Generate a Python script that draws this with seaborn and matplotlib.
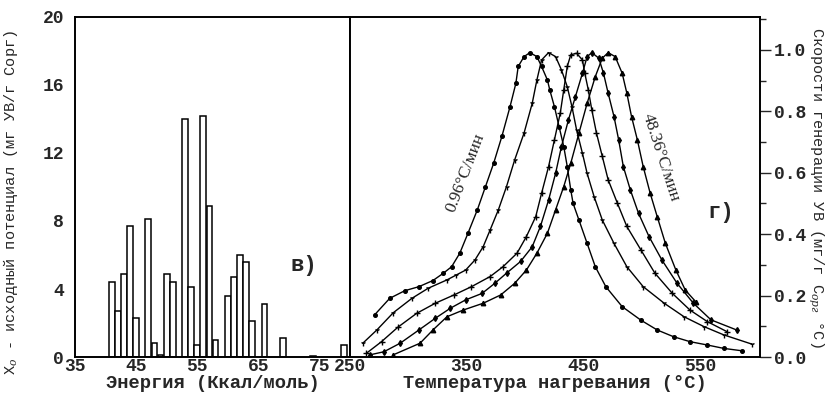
import matplotlib
matplotlib.use("Agg")
import matplotlib.pyplot as plt
import seaborn as sns
import numpy as np
from matplotlib.ticker import MultipleLocator

# ---------------- data: left panel (energy distribution) ----------------
energy = [41, 42, 43, 44, 45, 47, 48, 49, 50, 51, 53, 54, 55, 56, 57, 58,
          60, 61, 62, 63, 64, 66, 69, 74, 79]
potential = [4.4, 2.7, 4.9, 7.7, 2.3, 8.1, 0.8, 0.1, 4.9, 4.4, 14.0, 4.1, 0.7,
             14.2, 8.9, 1.0, 3.6, 4.7, 6.0, 5.6, 2.1, 3.1, 1.1, 0.05, 0.7]

# ---------------- data: right panel (generation rate curves) ----------------
t1 = [271, 284, 297, 309, 321, 330, 337, 344, 351, 359, 366, 373, 380, 387, 392,
      394, 399, 404, 410, 414, 419, 421, 425, 429, 433, 436, 439, 441, 446, 453,
      460, 469, 483, 499, 513, 527, 541, 556, 570, 586]
r1 = [0.137, 0.191, 0.216, 0.229, 0.249, 0.273, 0.294, 0.338, 0.403, 0.479,
      0.555, 0.631, 0.718, 0.815, 0.891, 0.946, 0.978, 0.991, 0.978, 0.946,
      0.902, 0.870, 0.815, 0.750, 0.685, 0.620, 0.544, 0.500, 0.446, 0.370,
      0.294, 0.229, 0.164, 0.120, 0.088, 0.066, 0.050, 0.039, 0.028, 0.020]

t2 = [261, 273, 287, 303, 317, 333, 341, 349, 357, 364, 370, 377, 384, 391, 399,
      406, 410, 414, 420, 426, 431, 436, 440, 444, 449, 453, 459, 466, 476, 487,
      501, 519, 536, 553, 570, 594]
r2 = [0.045, 0.088, 0.144, 0.191, 0.224, 0.251, 0.267, 0.283, 0.316, 0.359,
      0.414, 0.479, 0.555, 0.642, 0.729, 0.826, 0.902, 0.967, 0.991, 0.978,
      0.935, 0.880, 0.815, 0.739, 0.663, 0.598, 0.522, 0.446, 0.370, 0.294,
      0.229, 0.175, 0.131, 0.099, 0.072, 0.042]

t3 = [264, 277, 291, 307, 323, 339, 354, 370, 381, 393, 401, 409, 414, 420, 425,
      430, 433, 436, 439, 444, 449, 451, 454, 457, 461, 466, 471, 479, 487, 499,
      511, 526, 541, 556, 573]
r3 = [0.012, 0.050, 0.097, 0.142, 0.175, 0.202, 0.229, 0.262, 0.294, 0.338,
      0.392, 0.457, 0.533, 0.620, 0.707, 0.794, 0.870, 0.946, 0.984, 0.989,
      0.967, 0.924, 0.870, 0.805, 0.729, 0.653, 0.577, 0.500, 0.425, 0.349,
      0.273, 0.207, 0.153, 0.115, 0.082]

t4 = [267, 279, 293, 309, 323, 336, 349, 363, 374, 384, 396, 406, 413, 420, 426,
      431, 437, 443, 449, 453, 457, 463, 467, 471, 476, 480, 484, 490, 497, 506,
      517, 530, 544, 559, 581]
r4 = [0.007, 0.017, 0.045, 0.088, 0.126, 0.159, 0.186, 0.207, 0.240, 0.273,
      0.311, 0.359, 0.425, 0.511, 0.598, 0.685, 0.772, 0.848, 0.924, 0.978,
      0.991, 0.973, 0.924, 0.859, 0.783, 0.707, 0.620, 0.544, 0.468, 0.392,
      0.316, 0.240, 0.175, 0.121, 0.088]

t5 = [287, 310, 321, 333, 347, 364, 379, 391, 401, 410, 419, 426, 433, 439, 446,
      453, 460, 466, 471, 477, 483, 487, 491, 496, 501, 507, 513, 520, 529, 537,
      546]
r5 = [0.007, 0.045, 0.088, 0.131, 0.153, 0.175, 0.202, 0.240, 0.283, 0.338,
      0.403, 0.479, 0.555, 0.631, 0.729, 0.826, 0.913, 0.973, 0.991, 0.978,
      0.924, 0.859, 0.783, 0.707, 0.620, 0.533, 0.457, 0.370, 0.283, 0.218,
      0.180]

curves = [(t1, r1, "o", 2.6), (t2, r2, "1", 4.0), (t3, r3, "+", 3.8),
          (t4, r4, "d", 3.0), (t5, r5, "^", 3.2)]

# ---------------- style ----------------
sns.set_theme(style="white")
plt.rcParams["font.family"] = ["Liberation Mono", "DejaVu Sans"]
plt.rcParams["mathtext.fontset"] = "dejavuserif"

W, H = 834, 398
fig = plt.figure(figsize=(W / 100, H / 100), dpi=100)
top, bot = 17, 357
ax1 = fig.add_axes([75 / W, (H - bot) / H, (350 - 75) / W, (bot - top) / H])
ax2 = fig.add_axes([350 / W, (H - bot) / H, (760 - 350) / W, (bot - top) / H])

TICK_FS = 13

# ---------------- left panel ----------------
sns.barplot(x=energy, y=potential, native_scale=True, width=0.95, color="white",
            edgecolor="black", linewidth=1.1, ax=ax1, errorbar=None, saturation=1)
ax1.set_xlim(35, 80)
ax1.set_ylim(0, 20)
ax1.set_xticks([35, 45, 55, 65, 75])
ax1.xaxis.set_minor_locator(MultipleLocator(5))
ax1.set_yticks([0, 4, 8, 12, 16, 20])
ax1.yaxis.set_minor_locator(MultipleLocator(2))
ax1.tick_params(axis="x", which="both", direction="in", length=4, width=1,
                labelsize=TICK_FS, pad=1)
ax1.tick_params(axis="x", which="minor", length=3)
ax1.tick_params(axis="y", which="major", direction="out", length=6, width=1,
                labelsize=TICK_FS, pad=2)
ax1.tick_params(axis="y", which="minor", direction="out", length=3, width=1)
for lab in ax1.get_xticklabels() + ax1.get_yticklabels():
    lab.set_fontweight("bold")
ax1.set_xlabel("Энергия (Ккал/моль)", fontsize=13.5, fontweight="bold",
               labelpad=0)
ax1.set_ylabel("X$_o$ - исходный потенциал (мг УВ/г Сорг)", fontsize=11)
ax1.yaxis.set_label_coords(-0.2, 0.455)
ax1.text(72.5, 5.4, "в)", fontsize=16, fontweight="bold", ha="center",
         va="center")

# ---------------- right panel ----------------
for t, r, m, ms in curves:
    filled = m in ("o", "d", "^")
    sns.lineplot(x=t, y=r, color="black", linewidth=1.0, marker=m,
                 markersize=ms, markeredgecolor="black",
                 markerfacecolor="black" if filled else "none",
                 markeredgewidth=1.0, ax=ax2)
ax2.set_xlim(250, 601)
ax2.set_ylim(0, 1.107)
ax2.set_xticks([250, 350, 450, 550])
ax2.xaxis.set_minor_locator(MultipleLocator(20))
ax2.set_yticks([0.0, 0.2, 0.4, 0.6, 0.8, 1.0])
ax2.yaxis.set_minor_locator(MultipleLocator(0.1))
ax2.yaxis.tick_right()
ax2.yaxis.set_label_position("right")
ax2.yaxis.set_major_formatter(matplotlib.ticker.FormatStrFormatter("%.1f"))
ax2.tick_params(axis="x", which="both", direction="in", length=4, width=1,
                labelsize=TICK_FS, pad=1)
ax2.tick_params(axis="x", which="minor", length=3)
ax2.tick_params(axis="y", which="major", direction="out", length=8, width=1,
                labelsize=TICK_FS, pad=2, left=False, right=True)
ax2.tick_params(axis="y", which="minor", direction="out", length=4, width=1,
                left=False, right=True)
for lab in ax2.get_xticklabels() + ax2.get_yticklabels():
    lab.set_fontweight("bold")
ax2.set_xlabel("Температура нагревания (°C)", fontsize=13.5, fontweight="bold",
               labelpad=0)
ax2.set_ylabel("Скорости генерации УВ (мг/г С$_{орг}$ °C)", fontsize=11,
               rotation=-90, labelpad=14)
ax2.text(349, 0.60, "0.96°C/мин", rotation=69, fontsize=12.5,
         family=["Liberation Serif"], ha="center", va="center",
         rotation_mode="anchor")
ax2.text(516, 0.65, "48.36°C/мин", rotation=-72, fontsize=12.5,
         family=["Liberation Serif"], ha="center", va="center",
         rotation_mode="anchor")
ax2.text(567, 0.47, "г)", fontsize=16, fontweight="bold", ha="center",
         va="center")

for ax in (ax1, ax2):
    for s in ax.spines.values():
        s.set_color("black")
        s.set_linewidth(1.4)
        s.set_visible(True)
    ax.grid(False)
    ax.set_facecolor("white")

fig.savefig("out.png", dpi=100, facecolor="white")
